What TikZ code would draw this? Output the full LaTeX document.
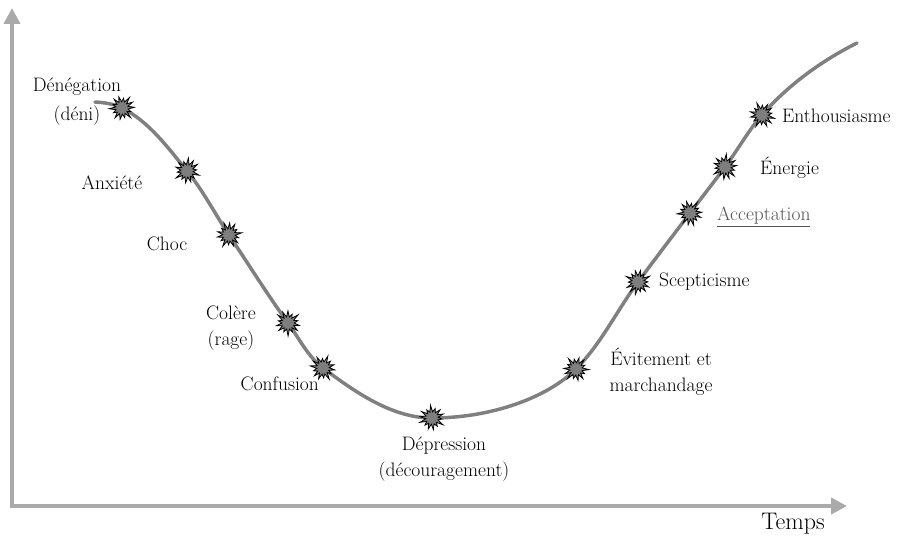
\documentclass[tikz,border=0pt]{standalone}
\usetikzlibrary{arrows.meta}
\definecolor{axisgray}{HTML}{AAAAAA}
\definecolor{curvegray}{HTML}{808080}
\definecolor{burstfill}{HTML}{7E7E7E}
\definecolor{softtext}{HTML}{555555}
\tikzset{
  axis/.style={draw=axisgray, line width=4pt, -{Triangle[width=16pt,length=16pt]}},
  curve/.style={draw=curvegray, line width=3.5pt, line cap=round},
  lbl/.style={font=\fontsize{19.5}{26}\selectfont, align=center, inner sep=0pt},
  % spiky marker: 14 irregular points round a small core
  burst/.pic={
    \filldraw[draw=black, line width=0.8pt, fill=burstfill, line join=miter, miter limit=20]
      (0:12) \foreach \k in {1,...,27} {
        -- ({\k*360/28}:{ifthenelse(mod(\k,2)==0, 11.2+1.7*sin(\k*73), 6.2)})
      } -- cycle;
  },
}
\begin{document}
\begin{tikzpicture}[x=1pt, y=-1pt]
  \useasboundingbox (0,0) rectangle (907,537);

  % axes
  \coordinate (origin) at (12,506);
  \coordinate (ytip) at (12,8);
  \coordinate (xtip) at (847,506);
  \draw[axis] ([xshift=-2pt]origin) -- (xtip);
  \draw[axis] ([yshift=2pt]origin) -- (ytip);
  \node[font=\fontsize{24}{28}\selectfont, inner sep=0pt] (temps) at (793,524) {Temps};

  % stages along the curve
  \coordinate (start) at (95,102);
  \coordinate (p1) at (122,108);
  \coordinate (p2) at (187,171);
  \coordinate (p3) at (229,235);
  \coordinate (p4) at (288,323);
  \coordinate (p5) at (323,368);
  \coordinate (p6) at (432,418);
  \coordinate (p7) at (576,369);
  \coordinate (p8) at (638,282);
  \coordinate (p9) at (690,213);
  \coordinate (p10) at (725,167);
  \coordinate (p11) at (762,115);
  \coordinate (finish) at (857,43);

  \draw[curve] (start)
    .. controls +(9.2,0.5) and +(-8.2,-4.1) .. (p1)
    .. controls +(27.0,13.5) and +(-19.1,-23.3) .. (p2)
    .. controls +(16.2,19.7) and +(-14.1,-21.2) .. (p3)
    .. controls +(19.6,29.4) and +(-20.7,-28.6) .. (p4)
    .. controls +(11.2,15.4) and +(-15.2,-11.4) .. (p5)
    .. controls +(32,24) and +(-40,0) .. (p6)
    .. controls +(60,0) and +(-28.3,28.3) .. (p7)
    .. controls +(25.2,-25.2) and +(-21.2,28.6) .. (p8)
    .. controls +(17.1,-23.1) and +(-17.4,23.0) .. (p9)
    .. controls +(11.7,-15.4) and +(-11.5,15.5) .. (p10)
    .. controls +(12.7,-17.1) and +(-14.0,16.1) .. (p11)
    .. controls +(26.1,-30.0) and +(-35.5,17.8) .. (finish);

  \foreach \i in {1,...,11} {
    \pic[rotate=\i*29] (b\i) at (p\i) {burst};
  }

  % stage labels
  \node[lbl, font=\fontsize{19.5}{29}\selectfont] (l1) at (77,102) {Dénégation\\(déni)};
  \node[lbl] (l2) at (112,183) {Anxiété};
  \node[lbl] (l3) at (167,244) {Choc};
  \node[lbl] (l4) at (231,328) {Colère\\(rage)};
  \node[lbl, anchor=east] (l5) at (319,384) {Confusion};
  \node[lbl] (l6) at (444,459) {Dépression\\(découragement)};
  \node[lbl] (l7) at (661,372) {Évitement et\\marchandage};
  \node[lbl, anchor=west] (l8) at (659,282) {Scepticisme};
  \node[lbl, anchor=west, text=softtext] (l9) at (717,217) {\underline{Acceptation}};
  \node[lbl, anchor=west] (l10) at (760,168) {Énergie};
  \node[lbl, anchor=west] (l11) at (782,116) {Enthousiasme};
\end{tikzpicture}
\end{document}
